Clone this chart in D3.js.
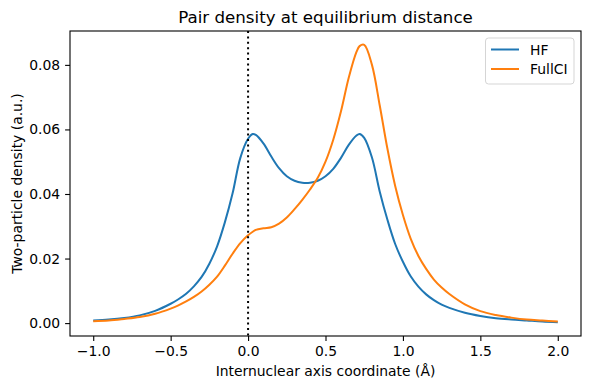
<!DOCTYPE html>
<html>
<head>
<meta charset="utf-8">
<script src="https://cdn.jsdelivr.net/npm/d3@7"></script>
<style>
  body { margin: 0; background: #fff; }
  svg { display: block; font-family: "DejaVu Sans", sans-serif; }
</style>
</head>
<body>
<svg id="chart" width="590" height="390"></svg>
<script>
// ---- data ----
const xCoords = [-1.0, -0.9, -0.8, -0.7, -0.6, -0.5, -0.45, -0.4, -0.35, -0.3, -0.25, -0.2, -0.15, -0.1, -0.05,
  0.0, 0.03, 0.05, 0.1, 0.15, 0.2, 0.25, 0.3, 0.35, 0.4, 0.45, 0.5, 0.55, 0.6, 0.65,
  0.7, 0.72, 0.75, 0.8, 0.85, 0.9, 0.95, 1.0, 1.05, 1.1, 1.15, 1.2, 1.25, 1.3, 1.4, 1.5, 1.6, 1.7,
  1.8, 1.9, 2.0];
const hfValues = [0.0008, 0.0011, 0.0016, 0.0024, 0.0038, 0.0060, 0.0074, 0.0091, 0.0114, 0.0143, 0.0184, 0.0238, 0.0312, 0.0402, 0.0512,
  0.0571, 0.0586, 0.0583, 0.0556, 0.0516, 0.0480, 0.0455, 0.0441, 0.0435, 0.0435, 0.0441, 0.0455, 0.0478, 0.0512, 0.0552,
  0.0581, 0.0586, 0.0574, 0.0513, 0.0408, 0.0320, 0.0245, 0.0190, 0.0145, 0.0113, 0.0089, 0.0071, 0.0057, 0.0047, 0.0032, 0.0022, 0.0015, 0.0011,
  0.0008, 0.0005, 0.0003];
const fciValues = [0.0006, 0.0008, 0.0013, 0.0019, 0.0029, 0.0045, 0.0055, 0.0067, 0.0081, 0.0098, 0.0119, 0.0144, 0.0178, 0.0215, 0.0248,
  0.0272, 0.0283, 0.0289, 0.0294, 0.0297, 0.0308, 0.0327, 0.0353, 0.0382, 0.0414, 0.0450, 0.0500, 0.0568, 0.0656, 0.0760,
  0.0840, 0.0858, 0.0862, 0.0800, 0.0675, 0.0540, 0.0425, 0.0335, 0.0262, 0.0208, 0.0168, 0.0135, 0.0110, 0.0090, 0.0058, 0.0037, 0.0025, 0.0017,
  0.0011, 0.0008, 0.0005];
const seriesNames = ["HF", "FullCI"];
const seriesColors = ["#1f77b4", "#ff7f0e"];
const xTicks = [-1.0, -0.5, 0.0, 0.5, 1.0, 1.5, 2.0];
const yTicks = [0.00, 0.02, 0.04, 0.06, 0.08];
const titleText = "Pair density at equilibrium distance";
const xLabel = "Internuclear axis coordinate (Å)";
const yLabel = "Two-particle density (a.u.)";

// ---- layout ----
const svg = d3.select("#chart");
const m = { left: 70, right: 581, top: 31, bottom: 336 };
const fs = 13.9;

const xMin = d3.min(xCoords), xMax = d3.max(xCoords);
const xPad = (xMax - xMin) * 0.05;
const allY = hfValues.concat(fciValues);
const yMin = d3.min(allY), yMax = d3.max(allY);
const yPad = (yMax - yMin) * 0.05;

const x = d3.scaleLinear().domain([xMin - xPad, xMax + xPad]).range([m.left, m.right]);
const y = d3.scaleLinear().domain([yMin - yPad, yMax + yPad]).range([m.bottom, m.top]);

svg.append("defs").append("clipPath").attr("id", "clip")
  .append("rect").attr("x", m.left).attr("y", m.top)
  .attr("width", m.right - m.left).attr("height", m.bottom - m.top);

const plot = svg.append("g").attr("clip-path", "url(#clip)");
const line = d3.line().x(d => x(d[0])).y(d => y(d[1])).curve(d3.curveCatmullRom.alpha(0.5));

[hfValues, fciValues].forEach((vals, i) => {
  plot.append("path")
    .datum(xCoords.map((xc, j) => [xc, vals[j]]))
    .attr("fill", "none")
    .attr("stroke", seriesColors[i])
    .attr("stroke-width", 2)
    .attr("stroke-linejoin", "round")
    .attr("stroke-linecap", "butt")
    .attr("d", line);
});

// vertical dotted line at 0
plot.append("line")
  .attr("x1", x(0)).attr("x2", x(0))
  .attr("y1", m.top).attr("y2", m.bottom)
  .attr("stroke", "#000").attr("stroke-width", 2)
  .attr("stroke-dasharray", "2,3.4");

// axes
const fmt = d3.format(".1f");
const xAxis = d3.axisBottom(x).tickValues(xTicks)
  .tickFormat(d => fmt(d).replace("-", "\u2212")).tickSize(4.9).tickPadding(4.9);
const yAxis = d3.axisLeft(y).tickValues(yTicks).tickFormat(d3.format(".2f")).tickSize(4.9).tickPadding(4.9);

const gx = svg.append("g").attr("transform", `translate(0,${m.bottom})`).call(xAxis);
const gy = svg.append("g").attr("transform", `translate(${m.left},0)`).call(yAxis);
[gx, gy].forEach(g => {
  g.select(".domain").remove();
  g.selectAll("line").attr("stroke", "#000").attr("stroke-width", 1.1);
  g.selectAll("text").attr("fill", "#000").style("font-size", fs + "px").style("font-family", "DejaVu Sans");
});

// frame
svg.append("rect")
  .attr("x", m.left).attr("y", m.top)
  .attr("width", m.right - m.left).attr("height", m.bottom - m.top)
  .attr("fill", "none").attr("stroke", "#000").attr("stroke-width", 1.1);

// title & labels
svg.append("text").attr("x", (m.left + m.right) / 2).attr("y", 23)
  .attr("text-anchor", "middle").style("font-size", "16.67px").text(titleText);
svg.append("text").attr("x", (m.left + m.right) / 2).attr("y", 376)
  .attr("text-anchor", "middle").style("font-size", fs + "px").text(xLabel);
svg.append("text").attr("transform", `translate(22,${(m.top + m.bottom) / 2}) rotate(-90)`)
  .attr("text-anchor", "middle").style("font-size", fs + "px").text(yLabel);

// legend
const lg = svg.append("g");
lg.append("rect").attr("x", 485.5).attr("y", 38).attr("width", 88.5).attr("height", 46)
  .attr("rx", 3).attr("fill", "#fff").attr("fill-opacity", 0.8)
  .attr("stroke", "#d5d5d5").attr("stroke-width", 1);
seriesNames.forEach((name, i) => {
  const yy = 49.5 + i * 19.5;
  lg.append("line").attr("x1", 491).attr("x2", 519).attr("y1", yy).attr("y2", yy)
    .attr("stroke", seriesColors[i]).attr("stroke-width", 2);
  lg.append("text").attr("x", 530).attr("y", yy + 5).style("font-size", fs + "px").text(name);
});
</script>
</body>
</html>
